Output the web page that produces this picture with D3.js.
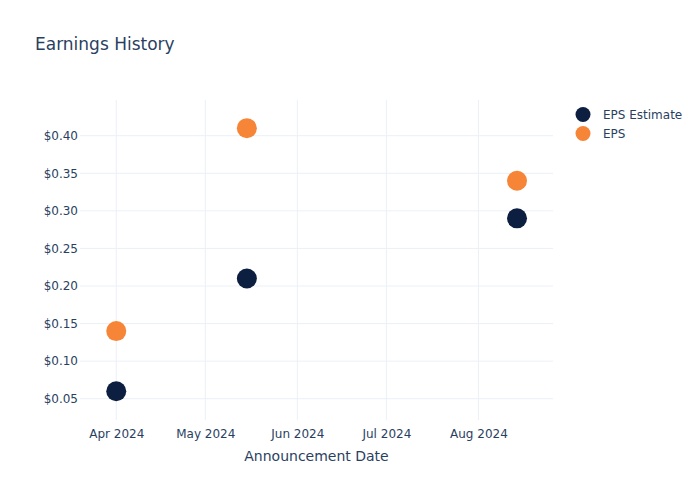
<!DOCTYPE html>
<html><head><meta charset="utf-8">
<script src="https://cdn.jsdelivr.net/npm/d3@7"></script>
<style>body{margin:0;background:#fff;} svg{font-family:"DejaVu Sans",Verdana,sans-serif;}</style>
</head><body>
<svg id="chart" width="700" height="500"></svg>
<script>
const dates = ["2024-04-01", "2024-05-15", "2024-08-14"];
const epsEstimate = [0.06, 0.21, 0.29];
const eps = [0.14, 0.41, 0.34];
const seriesNames = ["EPS Estimate", "EPS"];
const seriesColors = ["#0c1f40", "#f68537"];
const yTicks = [0.05, 0.10, 0.15, 0.20, 0.25, 0.30, 0.35, 0.40];
const xTickDates = ["2024-04-01", "2024-05-01", "2024-06-01", "2024-07-01", "2024-08-01"];

const parse = d3.utcParse("%Y-%m-%d");
const svg = d3.select("#chart");
const M = {l: 80, r: 147, t: 100, b: 80};
const W = 700, H = 500;
const textColor = "#2a3f5f", gridColor = "#ebf0f8";

const x = d3.scaleUtc()
  .domain([new Date(Date.UTC(2024, 2, 19, 19)), new Date(Date.UTC(2024, 7, 26, 3))])
  .range([M.l, W - M.r]);
const y = d3.scaleLinear().domain([0.0217, 0.4475]).range([H - M.b, M.t]);

// gridlines
svg.append("g").selectAll("line").data(xTickDates).join("line")
  .attr("x1", d => x(parse(d))).attr("x2", d => x(parse(d)))
  .attr("y1", M.t).attr("y2", H - M.b)
  .attr("stroke", gridColor).attr("stroke-width", 1);
svg.append("g").selectAll("line").data(yTicks).join("line")
  .attr("x1", M.l).attr("x2", W - M.r)
  .attr("y1", d => y(d)).attr("y2", d => y(d))
  .attr("stroke", gridColor).attr("stroke-width", 1);

// axes
const xAxis = d3.axisBottom(x).tickValues(xTickDates.map(parse))
  .tickFormat(d3.utcFormat("%b %Y")).tickSize(0).tickPadding(9);
const gx = svg.append("g").attr("transform", `translate(0,${H - M.b})`).call(xAxis);
gx.select(".domain").remove();
gx.selectAll("text").attr("fill", textColor).style("font-size", "12px").style("font-family", "DejaVu Sans");

const yAxis = d3.axisLeft(y).tickValues(yTicks)
  .tickFormat(d => "$" + d3.format(".2f")(d)).tickSize(0).tickPadding(2);
const gy = svg.append("g").attr("transform", `translate(${M.l},0)`).call(yAxis);
gy.select(".domain").remove();
gy.selectAll("text").attr("fill", textColor).style("font-size", "12px").style("font-family", "DejaVu Sans");

// points
const series = [epsEstimate, eps];
series.forEach((vals, i) => {
  svg.append("g").selectAll("circle").data(vals).join("circle")
    .attr("cx", (d, j) => x(parse(dates[j])))
    .attr("cy", d => y(d))
    .attr("r", 10)
    .attr("fill", seriesColors[i]);
});

// title
svg.append("text").attr("x", 35).attr("y", 50).text("Earnings History")
  .attr("fill", textColor).style("font-size", "17px");

// x axis title
svg.append("text").attr("x", (M.l + W - M.r) / 2).attr("y", 461)
  .attr("text-anchor", "middle").text("Announcement Date")
  .attr("fill", textColor).style("font-size", "14px");

// legend
const lg = svg.append("g");
seriesNames.forEach((n, i) => {
  lg.append("circle").attr("cx", 583).attr("cy", 114.5 + i * 19).attr("r", 7.5).attr("fill", seriesColors[i]);
  lg.append("text").attr("x", 603).attr("y", 114.5 + i * 19 + 4.5).text(n)
    .attr("fill", textColor).style("font-size", "12px");
});
</script>
</body></html>
